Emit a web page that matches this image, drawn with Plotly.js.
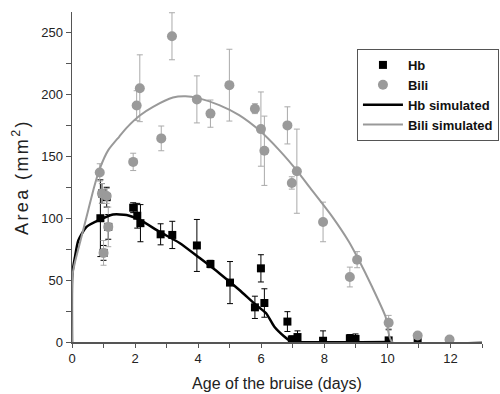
<!DOCTYPE html>
<html>
<head>
<meta charset="utf-8">
<script src="https://cdn.plot.ly/plotly-3.0.1.min.js"></script>
<style>
html,body{margin:0;padding:0;background:#fff;}
.ytitle{letter-spacing:2.4px;}
</style>
</head>
<body>
<div id="chart" style="width:500px;height:394px;"></div>
<script>
// Hb measurements (black squares)
var hbX   = [0.9, 0.95, 1.1, 1.15, 1.0, 1.94, 2.07, 2.17, 2.81, 3.18, 3.96, 4.39, 5.01, 5.8, 5.99, 6.1, 6.83, 6.97, 7.15, 7.96, 8.81, 8.99, 10.04, 10.96];
var hbY   = [100, 120, 117, 93, 72, 108.5, 102, 96, 87, 86.5, 78, 63, 48, 28, 59.5, 31.5, 16.5, 2, 4, 1, 3, 2.5, 1.3, 1];
var hbErr = [31, 8, 8, 10, 6, 4, 10, 15, 8.5, 11, 21, 3, 17, 9, 11, 11.5, 8, 3, 5, 8, 3, 4, 9, 2];

// Bilirubin measurements (grey circles)
var biliX   = [0.88, 0.95, 1.1, 1.15, 1.0, 1.94, 2.05, 2.15, 2.83, 3.17, 3.96, 4.39, 4.99, 5.8, 5.99, 6.1, 6.83, 6.97, 7.13, 7.96, 8.81, 9.04, 10.04, 10.96, 11.97];
var biliY   = [137, 120, 118, 93, 72, 145.5, 191, 205, 164.5, 247, 196, 184.5, 207.5, 188.5, 172, 154.5, 175, 128.5, 138, 97, 52.5, 66.5, 15.5, 5.3, 2];
var biliErr = [7, 8, 6, 16, 10, 7, 12, 27, 10, 19, 19, 11, 29, 4, 30, 28, 15, 5, 34, 16, 8, 6.5, 6, 2, 1];

// Simulated curves
var hbSimX = [0, 0.01, 0.09, 0.2, 0.46, 0.9, 1.3, 1.73, 2.15, 2.78, 3.41, 4.04, 4.67, 5.3, 5.83, 6.15, 6.41, 6.73, 6.94, 7.1, 10.1];
var hbSimY = [0, 55, 68, 82, 93, 99, 103, 102.6, 98.6, 89, 80, 68, 55.6, 42.2, 30, 23.4, 12.6, 4.5, 0.5, 0, 0];
var biliSimX = [0, 0.01, 0.09, 0.27, 0.5, 0.7, 0.88, 1.15, 1.5, 1.73, 2.15, 2.57, 3.2, 3.6, 4.0, 4.67, 5.3, 5.94, 6.57, 7.2, 7.52, 8.25, 8.78, 9.09, 9.51, 9.94, 10.15, 13];
var biliSimY = [0, 53, 64, 82, 105, 125, 140, 155, 166, 173, 183, 190, 197.5, 198.5, 197, 191.4, 183.3, 171, 155, 136.3, 125.5, 101.3, 81, 66.4, 44.8, 20.6, 0, 0];

var xTickVals = [0, 2, 4, 6, 8, 10, 12];
var yTickVals = [0, 50, 100, 150, 200, 250];

var font = 'Arial, "Liberation Sans", sans-serif';
var traces = [
  {x: hbX, y: hbY, name: 'Hb', mode: 'markers', type: 'scatter',
   marker: {symbol: 'square', size: 8, color: '#000'},
   error_y: {type: 'data', array: hbErr, visible: true, color: '#000', thickness: 1, width: 3}},
  {x: biliX, y: biliY, name: 'Bili', mode: 'markers', type: 'scatter',
   marker: {symbol: 'circle', size: 10, color: '#9a9a9a'},
   error_y: {type: 'data', array: biliErr, visible: true, color: '#aaaaaa', thickness: 1, width: 3}},
  {x: hbSimX, y: hbSimY, name: 'Hb simulated', mode: 'lines', type: 'scatter',
   line: {color: '#000', width: 2.5, shape: 'spline', smoothing: 0.6}},
  {x: biliSimX, y: biliSimY, name: 'Bili simulated', mode: 'lines', type: 'scatter',
   line: {color: '#999999', width: 2, shape: 'spline', smoothing: 0.6}}
];

var layout = {
  width: 500, height: 394,
  margin: {l: 72, r: 18, t: 12, b: 52, autoexpand: false},
  paper_bgcolor: '#fff', plot_bgcolor: '#fff',
  font: {family: font, color: '#222', size: 13},
  showlegend: true,
  legend: {x: 0.695, y: 0.888, xanchor: 'left', yanchor: 'top',
           bordercolor: '#555', borderwidth: 1, bgcolor: '#fff',
           font: {family: font, size: 13, color: '#111', weight: 'bold'},
           tracegroupgap: 0, itemwidth: 40},
  xaxis: {range: [0, 13], showgrid: false, zeroline: false, showline: true,
          linecolor: '#555', linewidth: 1.5, ticks: 'outside', ticklen: 4,
          tickcolor: '#555', tickvals: xTickVals, tickfont: {size: 13, color: '#222'},
          minor: {dtick: 1, ticks: 'outside', ticklen: 4, tickcolor: '#555', showgrid: false},
          title: {text: 'Age of the bruise (days)', font: {size: 16, color: '#222'}, standoff: 12},
          fixedrange: true},
  yaxis: {range: [0, 266.6], showgrid: false, zeroline: false, showline: true,
          linecolor: '#555', linewidth: 1.5, ticks: 'outside', ticklen: 5,
          tickcolor: '#555', tickvals: yTickVals, tickfont: {size: 13, color: '#222'},
          minor: {dtick: 25, ticks: 'outside', ticklen: 5, tickcolor: '#555', showgrid: false},
          title: {text: 'Area (mm<sup>2</sup>)', font: {size: 18, color: '#222'}, standoff: 8},
          fixedrange: true}
};

Plotly.newPlot('chart', traces, layout, {displayModeBar: false, staticPlot: true});
</script>
</body>
</html>
